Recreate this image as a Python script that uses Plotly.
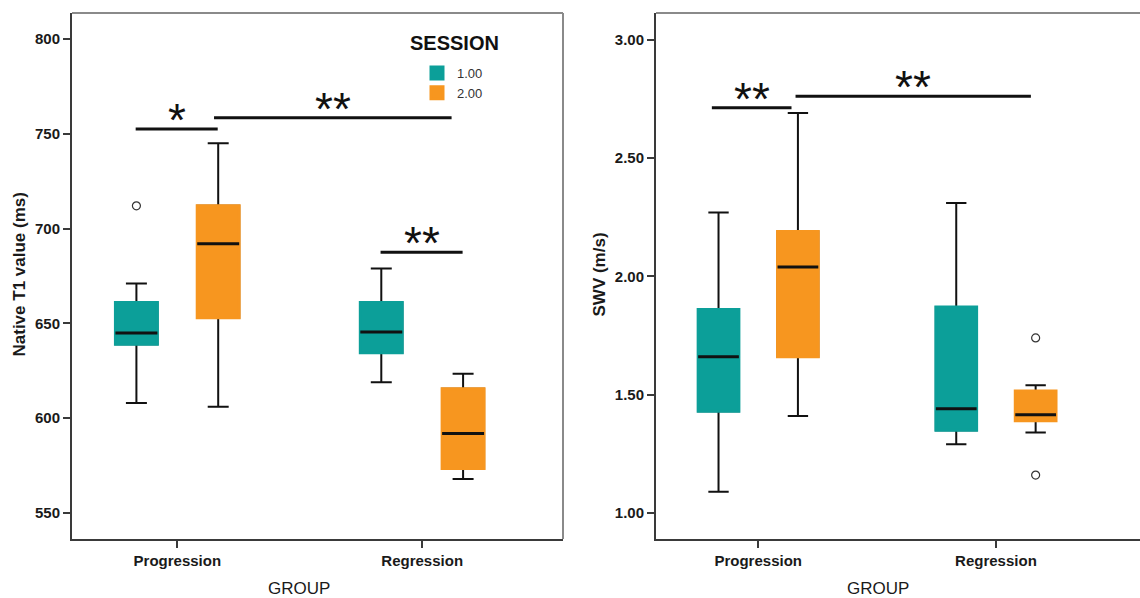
import plotly.graph_objects as go

# ---------------- data ----------------
groups = ["Progression", "Regression"]
sessions = ["1.00", "2.00"]
colors = ["#0c9f99", "#f7961f"]

# Native T1 value (ms); index [session][group]
t1_lower = [[608, 619], [606, 568]]
t1_q1 = [[639, 634.5], [653, 573.5]]
t1_median = [[645, 645.5], [692, 592]]
t1_q3 = [[661, 661], [712, 615.5]]
t1_upper = [[671, 679], [745, 623.5]]
t1_outliers = [[[712], []], [[], []]]

# SWV (m/s); index [session][group]
swv_lower = [[1.09, 1.29], [1.41, 1.34]]
swv_q1 = [[1.43, 1.35], [1.66, 1.39]]
swv_median = [[1.66, 1.44], [2.04, 1.415]]
swv_q3 = [[1.86, 1.87], [2.19, 1.515]]
swv_upper = [[2.27, 2.31], [2.69, 1.54]]
swv_outliers = [[[], []], [[], [1.74, 1.16]]]

# significance brackets: (x start, x end in category units, y level, label)
t1_sig = [(-0.17, 0.165, 752.5, "*"), (0.15, 1.12, 758.5, "**"), (0.83, 1.165, 687.5, "**")]
swv_sig = [(-0.195, 0.14, 2.713, "**"), (0.157, 1.147, 2.761, "**")]

t1_ticks = [550, 600, 650, 700, 750, 800]
swv_ticks = [1.0, 1.5, 2.0, 2.5, 3.0]

# ---------------- figure ----------------
fig = go.Figure()
BLK = "#111111"


def add_panel(xa, ya, lower, q1, med, q3, upper, outl, show_legend):
    for s in range(2):
        og = sessions[s]
        common = dict(orientation="v", offsetgroup=og, alignmentgroup=xa,
                      xaxis=xa, yaxis=ya, hoverinfo="skip")
        # black whiskers / outline / outliers, one trace per box
        for g in range(len(groups)):
            if outl[s][g]:
                kw = dict(y=[outl[s][g]], boxpoints="outliers", pointpos=0, jitter=0)
            else:
                kw = dict(boxpoints=False)
            fig.add_trace(go.Box(x=[groups[g]], q1=[q1[s][g]], median=[med[s][g]], q3=[q3[s][g]],
                                 lowerfence=[lower[s][g]], upperfence=[upper[s][g]],
                                 marker=dict(symbol="circle-open", size=8, color="#333",
                                             line=dict(width=1.2, color="#333")),
                                 line=dict(color=BLK, width=2), fillcolor=colors[s],
                                 whiskerwidth=0.5, showlegend=False, **kw, **common))
        # coloured box body (covers black outline)
        fig.add_trace(go.Box(x=groups, q1=q1[s], median=med[s], q3=q3[s],
                             lowerfence=q1[s], upperfence=q3[s], boxpoints=False,
                             line=dict(color=colors[s], width=3), fillcolor=colors[s],
                             whiskerwidth=0, name=sessions[s], legendgroup=og,
                             showlegend=show_legend, **common))
        # black median
        fig.add_trace(go.Box(x=groups, q1=med[s], median=med[s], q3=med[s],
                             lowerfence=med[s], upperfence=med[s], boxpoints=False,
                             line=dict(color=BLK, width=3), whiskerwidth=0,
                             showlegend=False, **common))


add_panel("x", "y", t1_lower, t1_q1, t1_median, t1_q3, t1_upper, t1_outliers, True)
add_panel("x2", "y2", swv_lower, swv_q1, swv_median, swv_q3, swv_upper, swv_outliers, False)

shapes = []
annotations = []
for xr, yr, sig in (("x", "y", t1_sig), ("x2", "y2", swv_sig)):
    for x0, x1, yv, lab in sig:
        shapes.append(dict(type="line", xref=xr, yref=yr, x0=x0, x1=x1, y0=yv, y1=yv,
                           line=dict(color=BLK, width=3)))
        annotations.append(dict(xref=xr, yref=yr, x=(x0 + x1) / 2, y=yv, text=lab,
                                showarrow=False, yanchor="middle", yshift=9,
                                font=dict(family="Liberation Sans, Arial", size=46, color=BLK)))

# grey top / right frame lines
shapes.append(dict(type="line", xref="x domain", yref="y domain", x0=0, x1=1, y0=1, y1=1,
                   line=dict(color="#8a8a8a", width=2)))
shapes.append(dict(type="line", xref="x domain", yref="y domain", x0=1, x1=1, y0=0, y1=1,
                   line=dict(color="#8a8a8a", width=2)))
shapes.append(dict(type="line", xref="x2 domain", yref="y2 domain", x0=0, x1=1, y0=1, y1=1,
                   line=dict(color="#8a8a8a", width=2)))

title_font = dict(family="Liberation Sans, Arial", size=17, color="#1a1a1a")
annotations += [
    dict(xref="paper", yref="paper", x=18.5 / 1140, y=1 - 275 / 598, text="<b>Native T1 value (ms)</b>",
         textangle=-90, showarrow=False, xanchor="center", yanchor="middle", font=title_font),
    dict(xref="paper", yref="paper", x=598.5 / 1140, y=1 - 275 / 598, text="<b>SWV (m/s)</b>",
         textangle=-90, showarrow=False, xanchor="center", yanchor="middle", font=title_font),
    dict(xref="paper", yref="paper", x=299 / 1140, y=1 - 588 / 598, text="GROUP",
         showarrow=False, xanchor="center", yanchor="middle", font=title_font),
    dict(xref="paper", yref="paper", x=877.5 / 1140, y=1 - 588 / 598, text="GROUP",
         showarrow=False, xanchor="center", yanchor="middle", font=title_font),
    dict(xref="paper", yref="paper", x=454 / 1140, y=1 - 43 / 598, text="<b>SESSION</b>",
         showarrow=False, xanchor="center", yanchor="middle",
         font=dict(family="Liberation Sans, Arial", size=20, color="#111")),
]

tickfont = dict(family="Liberation Sans, Arial", size=15, color="#1a1a1a", weight="bold")
axis_common = dict(showline=True, linecolor="#3a3a3a", linewidth=2, ticks="outside",
                   ticklen=7, tickwidth=1.5, tickcolor="#3a3a3a", showgrid=False,
                   zeroline=False, tickfont=tickfont, fixedrange=True)

ybot, ytop = 1 - 539 / 598, 1 - 13 / 598
fig.update_layout(
    width=1140, height=598,
    margin=dict(l=0, r=0, t=0, b=0),
    paper_bgcolor="white", plot_bgcolor="white",
    boxmode="group", boxgap=0.332, boxgroupgap=0.487,
    xaxis=dict(domain=[72 / 1140, 563 / 1140], anchor="y", type="category",
               categoryorder="array", categoryarray=groups, range=[-0.43, 1.575], **axis_common),
    yaxis=dict(domain=[ybot, ytop], anchor="x", type="linear", range=[536.3, 813.7],
               tickvals=t1_ticks, ticktext=[str(v) for v in t1_ticks], **axis_common),
    xaxis2=dict(domain=[656 / 1140, 1.0], anchor="y2", type="category",
                categoryorder="array", categoryarray=groups, range=[-0.43, 1.606], **axis_common),
    yaxis2=dict(domain=[ybot, ytop], anchor="x2", type="linear", range=[0.89, 3.113],
                tickvals=swv_ticks, ticktext=[f"{v:.2f}" for v in swv_ticks], **axis_common),
    legend=dict(x=417 / 1140, y=1 - 58 / 598, xanchor="left", yanchor="top",
                bgcolor="rgba(0,0,0,0)", borderwidth=0, tracegroupgap=0,
                font=dict(family="Liberation Sans, Arial", size=13, color="#333")),
    shapes=shapes, annotations=annotations,
    showlegend=True,
)

fig.write_html("out.html", config={"displayModeBar": False},
               post_script="document.body.style.margin='0';")
